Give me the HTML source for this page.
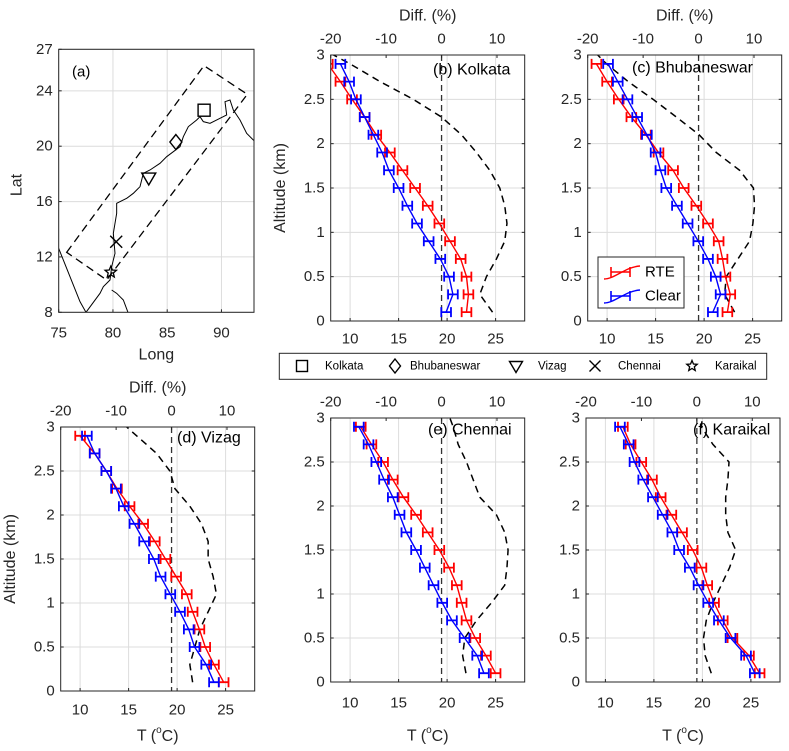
<!DOCTYPE html>
<html><head><meta charset="utf-8"><style>
body{margin:0;background:#fff;}
svg{display:block;font-family:"Liberation Sans",sans-serif;}
</style></head><body>
<svg id="fig" width="789" height="751" viewBox="0 0 789 751">
</svg>
<script>
// ---- data ----
const altitudes = [0.1,0.3,0.5,0.7,0.9,1.1,1.3,1.5,1.7,1.9,2.1,2.3,2.5,2.7,2.9];
const diffAlt = [0.1,0.3,0.5,0.7,0.9,1.1,1.3,1.5,1.7,1.9,2.1,2.3,2.5,2.7,2.9,3.0];
const tTicks = [10,15,20,25];
const diffTicks = [-20,-10,0,10];
const altTicks = [0,0.5,1,1.5,2,2.5,3];
const altTickLabels = ["0","0.5","1","1.5","2","2.5","3"];

const kolkataRTE   = [22.0,22.2,22.0,21.4,20.3,19.2,18.0,16.7,15.4,14.1,12.7,11.5,10.2,9.0,7.7];
const kolkataClear = [19.9,20.6,20.2,19.3,18.1,16.9,15.9,15.0,14.0,13.3,12.4,11.5,10.6,9.9,9.0];
const kolkataDiff  = [9.2,6.9,8.1,9.9,11.4,11.8,11.4,10.5,8.7,6.3,3.6,0,-5.1,-11.1,-16.5,-19.5];

const bhubRTE   = [22.4,22.7,22.2,21.9,21.5,20.4,19.2,17.9,16.8,15.3,14.0,12.5,11.2,10.0,8.9];
const bhubClear = [20.9,21.7,21.2,20.4,19.4,18.3,17.2,16.1,15.5,15.0,14.1,13.1,12.1,11.1,10.1];
const bhubDiff  = [6.5,4.7,5.0,7.1,9.2,9.8,10.1,9.9,7.4,3.2,0.1,-4.0,-8.2,-12.7,-16.6,-18.2];

const vizagRTE   = [24.8,23.8,22.9,22.3,21.6,21.0,19.9,18.8,17.7,16.5,15.1,13.8,12.7,11.5,10.0];
const vizagClear = [23.8,23.0,21.8,21.2,20.3,19.3,18.3,17.6,16.6,15.6,14.5,13.7,12.7,11.5,10.7];
const vizagDiff  = [3.8,3.3,4.2,5.1,6.6,8.1,7.5,6.6,6.6,5.4,3.3,0.6,-0.3,-2.7,-6.3,-8.1];

const chennaiRTE   = [25.0,24.0,22.9,22.0,21.5,21.0,20.2,19.2,18.0,16.8,15.5,14.4,13.4,12.2,11.1];
const chennaiClear = [23.8,23.1,21.8,20.5,19.5,18.6,17.7,16.8,15.8,15.1,14.4,13.5,12.7,11.9,10.9];
const chennaiDiff  = [4.4,3.8,4.2,6.3,9.0,11.4,11.8,12.0,11.4,9.9,6.9,5.7,4.5,3.0,2.1,1.5];

const karaikalRTE   = [25.9,24.8,23.1,22.1,21.2,20.5,19.9,19.0,17.9,16.8,15.7,14.8,13.7,12.6,11.8];
const karaikalClear = [25.4,24.5,22.9,21.7,20.6,19.6,18.7,17.6,16.9,15.9,14.9,13.9,13.0,12.4,11.5];
const karaikalDiff  = [2.6,1.5,1.2,1.7,2.9,4.4,5.9,7.0,5.6,5.2,5.2,5.6,5.8,2.9,0.8,1.0];

const errHalf = 0.5;

// ---- helpers ----
const NS="http://www.w3.org/2000/svg";
const svg=document.getElementById('fig');
function mk(tag,attrs,parent){const e=document.createElementNS(NS,tag);for(const k in attrs)e.setAttribute(k,attrs[k]);(parent||svg).appendChild(e);return e;}
function txt(s,x,y,size,anchor,parent,extra){const t=mk('text',Object.assign({x:x,y:y,'font-size':size,'text-anchor':anchor||'middle','dominant-baseline':'central',fill:'#262626'},extra||{}),parent);t.textContent=s;return t;}

const T0=8,T1=28,D0=-20,D1=15;
function panel(id,L,T,B,label,labX,labY,rte,clear,diff,opts){
  const R=L+194;
  const g=mk('g',{});
  
  
  const xT=v=>L+(v-T0)/(T1-T0)*(R-L);
  const xD=v=>L+(v-D0)/(D1-D0)*(R-L);
  const yA=v=>B-(v/3)*(B-T);
  const cid='clip-'+id;
  const cp=mk('clipPath',{id:cid},g);mk('rect',{x:L,y:T,width:R-L,height:B-T},cp);
  for(const t of tTicks){mk('line',{x1:xT(t),x2:xT(t),y1:T,y2:B,stroke:'#dcdcdc','stroke-width':1},g);}
  for(const a of altTicks){mk('line',{x1:L,x2:R,y1:yA(a),y2:yA(a),stroke:'#dcdcdc','stroke-width':1},g);}
  const z=mk('line',{x1:xD(0),x2:xD(0),y1:T,y2:B,stroke:'#333','stroke-width':1.3,'stroke-dasharray':'6,4'},g);
  
  
  const cg=mk('g',{'clip-path':'url(#'+cid+')'},g);
  const dp=mk('polyline',{points:diff.map((d,i)=>xD(d)+','+yA(diffAlt[i])).join(' '),fill:'none',stroke:'#000','stroke-width':1.5,'stroke-dasharray':'7,5','stroke-linejoin':'round'},cg);
  
  
  function series(vals,col,name){
    const p=mk('polyline',{points:vals.map((v,i)=>xT(v)+','+yA(altitudes[i])).join(' '),fill:'none',stroke:col,'stroke-width':1.4},cg);
    
    
    vals.forEach((v,i)=>{
      const y=yA(altitudes[i]),a=xT(v-errHalf),b=xT(v+errHalf);
      const e=mk('path',{d:`M${a},${y}H${b}M${a},${y-5}V${y+5}M${b},${y-5}V${y+5}`,stroke:col,'stroke-width':1.8,fill:'none'},cg);
      
      
    });
  }
  series(rte,'#ff0000','rte');
  series(clear,'#0000ff','clear');
  mk('rect',{x:L,y:T,width:R-L,height:B-T,fill:'none',stroke:'#262626','stroke-width':1},g);
  for(const t of tTicks){mk('line',{x1:xT(t),x2:xT(t),y1:B,y2:B-3,stroke:'#262626'},g);txt(String(t),xT(t),opts.tLabY,15,'middle',g);}
  for(const d of diffTicks){mk('line',{x1:xD(d),x2:xD(d),y1:T,y2:T+3,stroke:'#262626'},g);txt(String(d),xD(d),T-16,15,'middle',g);}
  altTicks.forEach((a,i)=>{mk('line',{x1:L,x2:L+3,y1:yA(a),y2:yA(a),stroke:'#262626'},g);mk('line',{x1:R,x2:R-3,y1:yA(a),y2:yA(a),stroke:'#262626'},g);txt(altTickLabels[i],L-6,yA(a),15,'end',g);});
  const lb=txt(label,labX,labY,16,'start',g,{fill:'#000'});
  
  
  if(opts.diffTitle){const dt=txt('Diff. (%)',(L+R)/2,T-39,16,'middle',g);}
  if(opts.altTitle){const at=txt('Altitude (km)',0,0,16,'middle',g,{transform:`translate(${L-50},${(T+B)/2}) rotate(-90)`});}
  if(opts.tTitle){const tt=mk('text',{x:(L+R)/2,y:736,'font-size':16,'text-anchor':'middle','dominant-baseline':'central',fill:'#262626'},g);tt.innerHTML='T (<tspan font-size="10" dy="-6">o</tspan><tspan dy="6">C)</tspan>';}
  return g;
}
panel('kolkata',330.7,55,321,'(b) Kolkata',433,70,kolkataRTE,kolkataClear,kolkataDiff,{tLabY:339,diffTitle:true,altTitle:true});
panel('bhubaneswar',587.7,55,321,'(c) Bhubaneswar',632,68,bhubRTE,bhubClear,bhubDiff,{tLabY:339,diffTitle:true});
panel('vizag',60.7,427,691,'(d) Vizag',177,438,vizagRTE,vizagClear,vizagDiff,{tLabY:710,diffTitle:true,altTitle:true,tTitle:true});
panel('chennai',330.7,418,682,'(e) Chennai',428,430,chennaiRTE,chennaiClear,chennaiDiff,{tLabY:703,tTitle:true});
panel('karaikal',586,418,682,'(f) Karaikal',693,430,karaikalRTE,karaikalClear,karaikalDiff,{tLabY:703,tTitle:true});

const lg=mk('g',{});


mk('rect',{x:598,y:257,width:86,height:51,fill:'#fff',stroke:'#262626'},lg);
[['RTE','#ff0000',272],['Clear','#0000ff',296]].forEach(([n,c,y])=>{
  mk('path',{d:`M604,${y+7}C615,${y+7} 625,${y-5} 640,${y-6}`,stroke:c,fill:'none','stroke-width':1.4},lg);
  mk('path',{d:`M611,${y}H630M611,${y-5}V${y+5}M630,${y-5}V${y+5}`,stroke:c,fill:'none','stroke-width':1.6},lg);
  const t=txt(n,645,y,15,'start',lg,{fill:'#000'});
  
  
});

// ---- map panel (a) ----
const siteNames=['Kolkata','Bhubaneswar','Vizag','Chennai','Karaikal'];
const siteLon=[88.4,85.8,83.3,80.3,79.8];
const siteLat=[22.6,20.3,17.7,13.1,10.9];
const lonTicks=[75,80,85,90];
const latTicks=[8,12,16,20,24,27];
const mL=58.7,mR=254,mT=49.3,mB=312.3;
const xL=v=>mL+(v-75)/18*(mR-mL), yL=v=>mB-(v-8)/19*(mB-mT);
const mg=mk('g',{});


const mcp=mk('clipPath',{id:'mapclip'},mg);mk('rect',{x:mL,y:mT,width:mR-mL,height:mB-mT},mcp);
lonTicks.forEach(v=>{mk('line',{x1:xL(v),x2:xL(v),y1:mT,y2:mB,stroke:'#dcdcdc'},mg);txt(String(v),xL(v),333,15,'middle',mg);});
latTicks.forEach(v=>{mk('line',{x1:mL,x2:mR,y1:yL(v),y2:yL(v),stroke:'#dcdcdc'},mg);txt(String(v),mL-6,yL(v),15,'end',mg);});
const mcg=mk('g',{'clip-path':'url(#mapclip)'},mg);
const coast=[[258,937],[240,905],[210,830],[176,745]];
const coast2=[[258,937],[300,880],[310,860],[330,840],[335,800],[345,760],[340,700],[350,640],[350,610],[380,595],[400,580],[410,570],[420,560],[430,520],[450,510],[480,490],[500,470],[520,455],[540,440],[550,410],[565,380],[590,360],[600,350],[610,365],[630,370],[660,355],[680,345],[675,305],[690,300],[700,330],[720,360],[740,400],[765,425]];
const lanka=[[335,870],[350,880],[370,900],[385,940]];
[coast,coast2,lanka].forEach(c=>{const p=mk('polyline',{points:c.map(q=>(q[0]/3)+','+(q[1]/3)).join(' '),fill:'none',stroke:'#000','stroke-width':1},mcg);});
mk('polygon',{points:[[200,757],[612,197],[742,283],[320,840]].map(q=>(q[0]/3)+','+(q[1]/3)).join(' '),fill:'none',stroke:'#000','stroke-width':1.3,'stroke-dasharray':'8,5'},mcg);
function marker(kind,x,y,parent,s){
  s=s||6;
  if(kind===0) return mk('rect',{x:x-s,y:y-s,width:2*s,height:2*s,fill:'none',stroke:'#000','stroke-width':1.4},parent);
  if(kind===1) return mk('polygon',{points:`${x},${y-s-1.5} ${x+s},${y} ${x},${y+s+1.5} ${x-s},${y}`,fill:'none',stroke:'#000','stroke-width':1.4},parent);
  if(kind===2) return mk('polygon',{points:`${x-s-1},${y-s+1} ${x+s+1},${y-s+1} ${x},${y+s+1}`,fill:'none',stroke:'#000','stroke-width':1.4},parent);
  if(kind===3) return mk('path',{d:`M${x-s},${y-s}L${x+s},${y+s}M${x-s},${y+s}L${x+s},${y-s}`,stroke:'#000','stroke-width':1.4},parent);
  let pts=[];for(let i=0;i<10;i++){const r=i%2?s*0.45:s;const a=-Math.PI/2+i*Math.PI/5;pts.push((x+r*Math.cos(a))+','+(y+r*Math.sin(a)));}
  return mk('polygon',{points:pts.join(' '),fill:'none',stroke:'#000','stroke-width':1.3},parent);
}
siteNames.forEach((n,i)=>{const m=marker(i,xL(siteLon[i]),yL(siteLat[i]),mcg);});
mk('rect',{x:mL,y:mT,width:mR-mL,height:mB-mT,fill:'none',stroke:'#262626'},mg);
lonTicks.forEach(v=>{mk('line',{x1:xL(v),x2:xL(v),y1:mB,y2:mB-3,stroke:'#262626'},mg);});
latTicks.forEach(v=>{mk('line',{x1:mL,x2:mL+3,y1:yL(v),y2:yL(v),stroke:'#262626'},mg);});
txt('(a)',72,72,15,'start',mg,{fill:'#000'});
const lonT=txt('Long',xL(84),355,16,'middle',mg);
const latT=txt('Lat',0,0,16,'middle',mg,{transform:'translate(17,185) rotate(-90)'});

const sg=mk('g',{});


mk('rect',{x:279.3,y:353.3,width:487.4,height:26,fill:'#fff',stroke:'#262626'},sg);
const mx=[302,395,516,595,692],tx=[325,410,538,618,715];
siteNames.forEach((n,i)=>{marker(i,mx[i],366,sg,5.5);const t=txt(n,tx[i],366.5,11.5,'start',sg,{fill:'#000'});});
</script>
</body></html>
